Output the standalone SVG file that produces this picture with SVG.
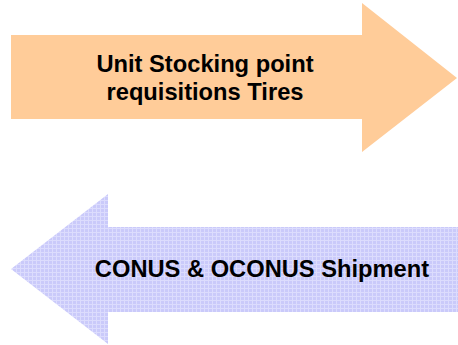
<svg xmlns="http://www.w3.org/2000/svg" width="458" height="345" viewBox="0 0 458 345">
  <defs>
    <pattern id="grid" width="4" height="4" patternUnits="userSpaceOnUse">
      <rect width="4" height="4" fill="#CACAFA"/>
      <rect x="0" y="0" width="4" height="1" fill="#DCDCFD"/>
      <rect x="0" y="0" width="1" height="4" fill="#DCDCFD"/>
    </pattern>
  </defs>
  <style>
    .lbl { font-family: "Liberation Sans", Arial, sans-serif; font-weight: bold; font-size: 23.7px; fill: #000; text-anchor: middle; }
  </style>
  <g id="request">
    <polygon points="11,35 362,35 362,3 457,78 362,152 362,119 11,119" fill="#FFCC99"/>
    <text class="lbl" x="205" y="72">Unit Stocking point</text>
    <text class="lbl" x="205" y="100">requisitions Tires</text>
  </g>
  <g id="shipment">
    <polygon points="458,227 108,227 108,194 11,269 108,344 108,312 458,312" fill="url(#grid)"/>
    <text class="lbl" x="262" y="277">CONUS &amp; OCONUS Shipment</text>
  </g>
  <g id="connectors"/>
</svg>
